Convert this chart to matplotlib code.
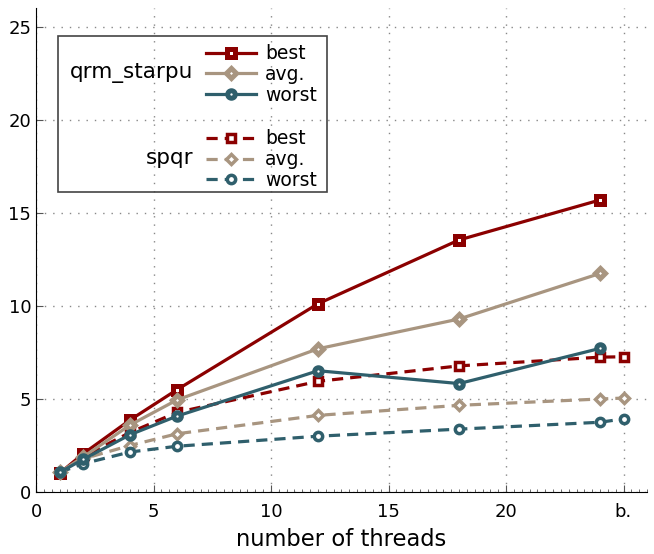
import numpy as np
import matplotlib.pyplot as plt
from matplotlib.patches import Rectangle
from matplotlib.ticker import MultipleLocator

plt.rcParams['font.family'] = ['DejaVu Sans']

# data
threads_qrm = [1, 2, 4, 6, 12, 18, 24]
qrm_best = [1.0, 2.05, 3.87, 5.5, 10.12, 13.55, 15.7]
qrm_avg = [1.05, 1.88, 3.6, 4.95, 7.7, 9.3, 11.75]
qrm_worst = [1.05, 1.75, 3.08, 4.08, 6.52, 5.83, 7.72]

threads_spqr = [1, 2, 4, 6, 12, 18, 24, 25]
spqr_best = [1.0, 1.9, 3.2, 4.28, 5.95, 6.78, 7.25, 7.27]
spqr_avg = [1.05, 1.78, 2.5, 3.13, 4.12, 4.66, 5.0, 5.05]
spqr_worst = [1.05, 1.52, 2.15, 2.46, 3.0, 3.38, 3.75, 3.93]

xticks = [0, 5, 10, 15, 20, 25]
xticklabels = ['0', '5', '10', '15', '20', 'b.']
yticks = [0, 5, 10, 15, 20, 25]

red = '#8b0000'
tan = '#a89580'
teal = '#2f5f6c'

fig = plt.figure(figsize=(6.54, 5.54), dpi=100)
ax = fig.add_axes([36/654, 62/554, 611/654, 483.6/554])

solid = dict(lw=2.3, ms=5.4, mfc='w', mew=3.6)
dashed = dict(lw=2.3, ls=(0, (3.5, 2.2)), ms=6, mfc='w', mew=2.5)

h1 = ax.plot(threads_qrm, qrm_best, color=red, marker='s', **solid)[0]
h2 = ax.plot(threads_qrm, qrm_avg, color=tan, marker='D', **{**solid, 'ms': 4.6})[0]
h3 = ax.plot(threads_qrm, qrm_worst, color=teal, marker='o', **solid)[0]
h4 = ax.plot(threads_spqr, spqr_best, color=red, marker='s', **dashed)[0]
h5 = ax.plot(threads_spqr, spqr_avg, color=tan, marker='D', **{**dashed, 'ms': 5.2})[0]
h6 = ax.plot(threads_spqr, spqr_worst, color=teal, marker='o', **dashed)[0]

# solid lines drawn over the dashed ones
for h in (h1, h2, h3):
    h.set_zorder(3)

ax.set_xlim(0, 26)
ax.set_ylim(0, 26)
ax.set_xticks(xticks)
ax.set_xticklabels(xticklabels)
ax.set_yticks(yticks)
ax.xaxis.set_minor_locator(MultipleLocator(1/3))
ax.tick_params(direction='in', labelsize=13, length=5, color='#555555')
ax.tick_params(which='minor', direction='in', length=2.5, color='#555555')
ax.tick_params(axis='x', pad=8)
ax.grid(True, ls=(0, (1, 5)), color='#888888', lw=1)
ax.spines['top'].set_visible(False)
ax.spines['right'].set_visible(False)
ax.set_xlabel('number of threads', fontsize=16.3, labelpad=5)

# legend: one frame, two groups with a name on the left
ax.add_patch(Rectangle((0.036, 0.620), 0.44, 0.323, transform=ax.transAxes,
                       fill=False, ec='#444444', lw=1.2, zorder=5))
leg_kw = dict(loc='upper left', frameon=False, fontsize=13.5, borderpad=0,
              borderaxespad=0, labelspacing=0.1, handlelength=2.7,
              handletextpad=0.45)
leg1 = ax.legend([h1, h2, h3], ['best', 'avg.', 'worst'],
                 bbox_to_anchor=(0.278, 0.926), **leg_kw)
ax.add_artist(leg1)
ax.legend([h4, h5, h6], ['best', 'avg.', 'worst'],
          bbox_to_anchor=(0.278, 0.750), **leg_kw)
ax.text(0.257, 0.866, 'qrm_starpu', transform=ax.transAxes, fontsize=15.5,
        ha='right', va='center')
ax.text(0.257, 0.691, 'spqr', transform=ax.transAxes, fontsize=15.5,
        ha='right', va='center')

fig.savefig('out.png', dpi=100)
